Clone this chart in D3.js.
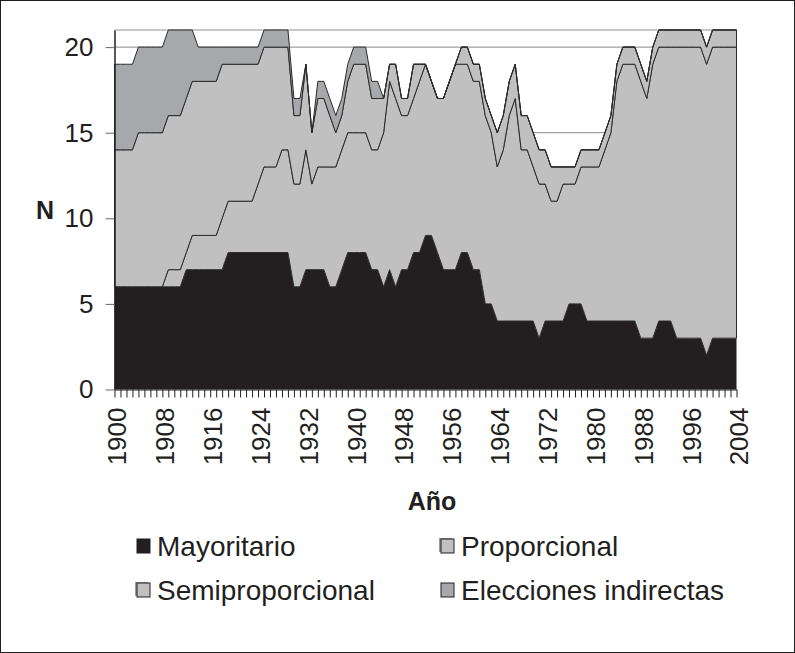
<!DOCTYPE html>
<html>
<head>
<meta charset="utf-8">
<script src="https://cdn.jsdelivr.net/npm/d3@7"></script>
<style>
  body { margin: 0; background: #fff; }
  svg { display: block; }
  text { font-family: "Liberation Sans", Arial, Helvetica, sans-serif; fill: #231f20; }
</style>
</head>
<body>
<svg id="chart" width="795" height="653"></svg>
<script>
// DATA (número de países por sistema electoral, 1900-2004)
const years = d3.range(1900, 2005);
const yearLabels = [1900, 1908, 1916, 1924, 1932, 1940, 1948, 1956, 1964, 1972, 1980, 1988, 1996, 2004];
const yTicks = [0, 5, 10, 15, 20];

const mayoritario = [
  6,6,6,6,6,6,6,6,6,6,
  6,6,7,7,7,7,7,7,7,8,
  8,8,8,8,8,8,8,8,8,8,
  6,6,7,7,7,7,6,6,7,8,
  8,8,8,7,7,6,7,6,7,7,
  8,8,9,9,8,7,7,7,8,8,
  7,7,5,5,4,4,4,4,4,4,
  4,3,4,4,4,4,5,5,5,4,
  4,4,4,4,4,4,4,4,3,3,
  3,4,4,4,3,3,3,3,3,2,
  3,3,3,3,3
];
const proporcional = [
  0,0,0,0,0,0,0,0,0,1,
  1,1,1,2,2,2,2,2,3,3,
  3,3,3,3,4,5,5,5,6,6,
  6,6,7,5,6,6,7,7,7,7,
  7,7,7,7,7,9,11,11,9,9,
  9,10,10,9,9,10,11,12,11,11,
  11,11,11,10,9,10,12,13,10,10,
  9,9,8,7,7,8,7,7,8,9,
  9,9,10,11,14,15,15,15,15,14,
  16,16,16,16,17,17,17,17,17,17,
  17,17,17,17,17
];
const semiproporcional = [
  8,8,8,8,9,9,9,9,9,9,
  9,9,9,9,9,9,9,9,9,8,
  8,8,8,8,7,7,7,7,6,6,
  4,4,5,3,4,4,3,2,2,3,
  4,4,4,3,3,2,1,2,1,1,
  2,1,0,0,0,0,0,0,1,1,
  1,1,1,1,2,2,2,2,2,2,
  2,2,2,2,2,1,1,1,1,1,
  1,1,1,1,1,1,1,1,1,1,
  1,1,1,1,1,1,1,1,1,1,
  1,1,1,1,1
];
const indirectas = [
  5,5,5,5,5,5,5,5,5,5,
  5,5,4,3,2,2,2,2,1,1,
  1,1,1,1,1,1,1,1,1,1,
  1,1,0,0,1,1,1,1,1,1,
  1,1,1,1,1,0,0,0,0,0,
  0,0,0,0,0,0,0,0,0,0,
  0,0,0,0,0,0,0,0,0,0,
  0,0,0,0,0,0,0,0,0,0,
  0,0,0,0,0,0,0,0,0,0,
  0,0,0,0,0,0,0,0,0,0,
  0,0,0,0,0
];

const series = [
  { key: "Mayoritario", values: mayoritario, fill: "#231f20" },
  { key: "Proporcional", values: proporcional, fill: "#c0c0c0" },
  { key: "Semiproporcional", values: semiproporcional, fill: "#c0c0c0" },
  { key: "Elecciones indirectas", values: indirectas, fill: "#a7a8ab" }
];

const table = years.map((yr, i) => {
  const row = { year: yr };
  series.forEach(s => row[s.key] = s.values[i]);
  return row;
});

const svg = d3.select("#chart");

// marco exterior
svg.append("rect")
  .attr("x", 0.5).attr("y", 0.5)
  .attr("width", 794).attr("height", 652)
  .attr("fill", "none").attr("stroke", "#231f20");

//SCALES
const x = d3.scaleLinear().domain([1900, 2004]).range([114.5, 736.5]);
const y = d3.scaleLinear().domain([0, 21]).range([389.5, 30]);

//GRID
svg.append("g")
  .selectAll("line")
  .data(yTicks.filter(d => d > 0))
  .join("line")
  .attr("x1", x(1900)).attr("x2", x(2004))
  .attr("y1", d => y(d)).attr("y2", d => y(d))
  .attr("stroke", "#8a8a8a")
  .attr("stroke-width", 1);

svg.append("line")
  .attr("x1", x(1900)).attr("x2", x(2004))
  .attr("y1", y(21)).attr("y2", y(21))
  .attr("stroke", "#c8c8c8")
  .attr("stroke-width", 2);

//STACK
const stack = d3.stack().keys(series.map(s => s.key));
const stacked = stack(table);

const area = d3.area()
  .x(d => x(d.data.year))
  .y0(d => y(d[0]))
  .y1(d => y(d[1]));

svg.append("g")
  .selectAll("path")
  .data(stacked)
  .join("path")
  .attr("d", area)
  .attr("fill", (d, i) => series[i].fill)
  .attr("stroke", "#2a2a2a")
  .attr("stroke-width", (d, i) => i === 0 ? 0 : 1)
  .attr("stroke-linejoin", "round");

//AXES
const yAxis = svg.append("g")
  .attr("transform", `translate(${x(1900)},0)`)
  .call(d3.axisLeft(y).tickValues(yTicks).tickSize(9).tickPadding(12).tickSizeOuter(0));
yAxis.select(".domain").attr("stroke", "#231f20").attr("stroke-width", 1.5);
yAxis.selectAll(".tick line").attr("stroke", "#6a6a6a");
yAxis.selectAll(".tick text")
  .attr("font-size", 26)
  .attr("fill", "#231f20")
  .attr("font-family", "Liberation Sans, Arial, sans-serif");

const xAxis = svg.append("g")
  .attr("transform", `translate(0,${y(0)})`)
  .call(d3.axisBottom(x)
    .tickValues(years)
    .tickSize(8)
    .tickSizeOuter(0)
    .tickFormat(d => yearLabels.includes(d) ? d : ""));
xAxis.select(".domain").attr("stroke", "#231f20");
xAxis.selectAll(".tick line").attr("stroke", "#231f20");
xAxis.selectAll(".tick text")
  .attr("font-size", 26)
  .attr("fill", "#231f20")
  .attr("font-family", "Liberation Sans, Arial, sans-serif")
  .attr("transform", "rotate(-90)")
  .attr("x", -18)
  .attr("y", 2)
  .attr("dy", "0.36em")
  .style("text-anchor", "end");

//TITLES
svg.append("text")
  .attr("x", 45).attr("y", 219)
  .attr("text-anchor", "middle")
  .attr("font-size", 25)
  .attr("font-weight", "bold")
  .text("N");

svg.append("text")
  .attr("x", 432).attr("y", 510)
  .attr("text-anchor", "middle")
  .attr("font-size", 25)
  .attr("font-weight", "bold")
  .text("Año");

//LEGEND
const legendPos = [
  { x: 137, y: 546 },
  { x: 441, y: 546 },
  { x: 137, y: 590 },
  { x: 441, y: 590 }
];

const legend = svg.append("g")
  .selectAll("g")
  .data(series)
  .join("g")
  .attr("transform", (d, i) => `translate(${legendPos[i].x},${legendPos[i].y})`);

// pequeña sombra gris en los marcadores claros
legend.filter((d, i) => i === 1 || i === 2)
  .append("rect")
  .attr("x", -2).attr("y", -8)
  .attr("width", 13).attr("height", 14)
  .attr("fill", "#9a9a9a");

legend.append("rect")
  .attr("x", 0).attr("y", -7)
  .attr("width", 13).attr("height", 14)
  .attr("fill", d => d.fill)
  .attr("stroke", "#231f20")
  .attr("stroke-width", 1);

legend.append("text")
  .attr("x", 20)
  .attr("y", 0)
  .attr("dy", "0.36em")
  .attr("font-size", 28)
  .text(d => d.key);
</script>
</body>
</html>
